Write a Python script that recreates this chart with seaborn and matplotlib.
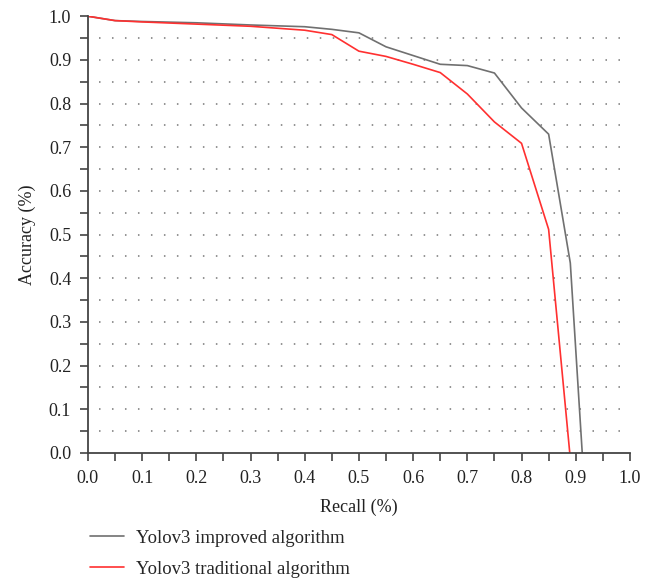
import numpy as np
import pandas as pd
import seaborn as sns
import matplotlib.pyplot as plt
from matplotlib.ticker import MultipleLocator

# values
recall_improved = [0.0, 0.05, 0.1, 0.2, 0.3, 0.4, 0.45, 0.5, 0.55, 0.6, 0.65, 0.7, 0.75, 0.8, 0.85, 0.89, 0.912]
acc_improved = [1.0, 0.99, 0.988, 0.985, 0.98, 0.976, 0.97, 0.962, 0.93, 0.91, 0.89, 0.887, 0.87, 0.79, 0.73, 0.435, 0.0]
recall_trad = [0.0, 0.05, 0.1, 0.2, 0.3, 0.4, 0.45, 0.5, 0.55, 0.6, 0.65, 0.7, 0.75, 0.8, 0.85, 0.889]
acc_trad = [1.0, 0.99, 0.987, 0.982, 0.977, 0.968, 0.958, 0.92, 0.908, 0.89, 0.871, 0.822, 0.758, 0.709, 0.512, 0.0]
names = ["Yolov3 improved algorithm", "Yolov3 traditional algorithm"]
colors = ["#707070", "#ff3030"]

df = pd.concat([
    pd.DataFrame({"Recall": recall_improved, "Accuracy": acc_improved, "algo": names[0]}),
    pd.DataFrame({"Recall": recall_trad, "Accuracy": acc_trad, "algo": names[1]}),
], ignore_index=True)

sns.set_style("ticks")
plt.rcParams["font.family"] = ["Liberation Serif", "DejaVu Serif"]

fig = plt.figure(figsize=(6.61, 5.8), dpi=100)
ax = fig.add_axes([0.133, 0.219, 0.82, 0.753])

# dotted horizontal guides
ax.hlines(np.arange(0.05, 0.99, 0.05), 0.02, 1.0, colors="#777777",
          linewidth=1.1, linestyles=(0, (1, 7.5)), zorder=0)

sns.lineplot(data=df, x="Recall", y="Accuracy", hue="algo", palette=colors,
             sort=False, estimator=None, linewidth=1.2, ax=ax)

ax.set_xlim(0, 1.0)
ax.set_ylim(0, 1.0)
ax.xaxis.set_major_locator(MultipleLocator(0.1))
ax.xaxis.set_minor_locator(MultipleLocator(0.05))
ax.yaxis.set_major_locator(MultipleLocator(0.1))
ax.yaxis.set_minor_locator(MultipleLocator(0.05))
ax.xaxis.set_major_formatter(lambda v, p: f"{v:.1f}")
ax.yaxis.set_major_formatter(lambda v, p: f"{v:.1f}")
for s in ["top", "right"]:
    ax.spines[s].set_visible(False)
for s in ["left", "bottom"]:
    ax.spines[s].set_color("#444444")
    ax.spines[s].set_linewidth(1.3)
ax.tick_params(which="both", direction="out", color="#444444", width=1.2, length=6,
               pad=6, labelsize=13, labelcolor="#222222")
ax.set_xlabel("Recall (%)", fontsize=13, color="#222222", labelpad=9)
ax.set_ylabel("Accuracy (%)", fontsize=13, color="#222222", labelpad=9)

ax.legend(title=None, frameon=False, loc="upper left", bbox_to_anchor=(-0.01, -0.158),
          fontsize=13.5, handlelength=1.8, labelspacing=0.76, handletextpad=0.65,
          borderaxespad=0)

fig.savefig("out.png", dpi=100)
